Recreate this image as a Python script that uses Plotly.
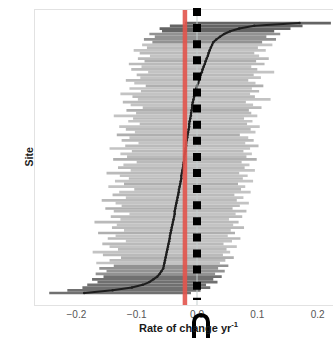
import plotly.graph_objects as go

# ---------------- data ----------------
site = list(range(1, 101))

estimate = [
    -0.187, -0.140, -0.108, -0.090, -0.079, -0.072, -0.066, -0.062, -0.059, -0.056,
    -0.055, -0.054, -0.053, -0.052, -0.051, -0.050, -0.049, -0.048, -0.047, -0.046,
    -0.045, -0.045, -0.044, -0.043, -0.042, -0.041, -0.040, -0.039, -0.038, -0.037,
    -0.037, -0.036, -0.035, -0.034, -0.033, -0.032, -0.031, -0.030, -0.030, -0.029,
    -0.028, -0.027, -0.026, -0.026, -0.025, -0.024, -0.023, -0.023, -0.022, -0.021,
    -0.021, -0.020, -0.019, -0.019, -0.018, -0.018, -0.017, -0.016, -0.016, -0.015,
    -0.014, -0.013, -0.013, -0.012, -0.011, -0.010, -0.010, -0.009, -0.008, -0.008,
    -0.007, -0.006, -0.005, -0.004, -0.002, -0.001, 0.000, 0.002, 0.003, 0.005,
    0.006, 0.008, 0.009, 0.011, 0.013, 0.014, 0.016, 0.018, 0.019, 0.021,
    0.023, 0.025, 0.027, 0.032, 0.038, 0.045, 0.055, 0.070, 0.095, 0.170,
]

lower = [
    -0.245, -0.215, -0.190, -0.182, -0.165, -0.174, -0.155, -0.168, -0.150, -0.162,
    -0.138, -0.167, -0.145, -0.126, -0.156, -0.173, -0.131, -0.145, -0.157, -0.118,
    -0.148, -0.135, -0.164, -0.121, -0.141, -0.133, -0.170, -0.127, -0.143, -0.112,
    -0.138, -0.152, -0.125, -0.135, -0.158, -0.118, -0.140, -0.129, -0.104, -0.147,
    -0.121, -0.136, -0.113, -0.128, -0.150, -0.110, -0.131, -0.122, -0.100, -0.139,
    -0.116, -0.127, -0.108, -0.145, -0.119, -0.097, -0.125, -0.112, -0.133, -0.103,
    -0.118, -0.129, -0.095, -0.114, -0.106, -0.138, -0.101, -0.117, -0.090, -0.110,
    -0.123, -0.098, -0.107, -0.127, -0.093, -0.112, -0.085, -0.104, -0.118, -0.094,
    -0.100, -0.081, -0.109, -0.092, -0.113, -0.087, -0.098, -0.078, -0.095, -0.105,
    -0.083, -0.091, -0.074, -0.088, -0.070, -0.079, -0.058, -0.062, -0.045, -0.020,
]

upper = [
    -0.010, 0.006, 0.022, 0.015, 0.034, 0.027, 0.041, 0.030, 0.046, 0.035,
    0.052, 0.038, 0.047, 0.061, 0.043, 0.055, 0.049, 0.066, 0.044, 0.058,
    0.072, 0.051, 0.063, 0.056, 0.078, 0.060, 0.069, 0.053, 0.075, 0.064,
    0.082, 0.059, 0.071, 0.086, 0.066, 0.077, 0.062, 0.089, 0.073, 0.080,
    0.068, 0.093, 0.076, 0.084, 0.070, 0.096, 0.079, 0.087, 0.074, 0.099,
    0.082, 0.091, 0.077, 0.088, 0.102, 0.080, 0.094, 0.085, 0.071, 0.097,
    0.089, 0.104, 0.083, 0.092, 0.078, 0.100, 0.090, 0.086, 0.107, 0.093,
    0.081, 0.122, 0.096, 0.088, 0.103, 0.091, 0.110, 0.097, 0.085, 0.106,
    0.094, 0.128, 0.100, 0.090, 0.112, 0.098, 0.119, 0.103, 0.095, 0.114,
    0.101, 0.125, 0.108, 0.131, 0.115, 0.138, 0.128, 0.155, 0.175, 0.222,
]

overall_rate = -0.020
reference_rate = 0.0
x_ticks = [-0.2, -0.1, 0.0, 0.1, 0.2]
x_tick_labels = ["\u22120.2", "\u22120.1", "0.0", "0.1", "0.2"]

# ---------------- figure ----------------
W, H = 333, 338
ML, MR, MT, MB = 35, 0, 10, 33
PW, PH = W - ML - MR, H - MT - MB
FONT = "Liberation Sans, Arial, sans-serif"

N = len(site)


def shade(k):
    if k < 7:
        return "#707070"
    if k < 11:
        return "#929292"
    if k >= N - 4:
        return "#646464"
    if k >= N - 8:
        return "#929292"
    if k % 9 == 4:
        return "#afafaf"
    return "#bababa" if k % 2 == 0 else "#c3c3c3"


groups = {}
for k in range(N):
    c = shade(k)
    xs, ys = groups.setdefault(c, ([], []))
    xs += [lower[k], upper[k], None]
    ys += [site[k], site[k], None]

fig = go.Figure()
order = ["#c3c3c3", "#bababa", "#afafaf", "#929292", "#707070", "#646464"]
for c in order:
    if c in groups:
        xs, ys = groups[c]
        fig.add_trace(go.Scatter(x=xs, y=ys, mode="lines",
                                 line=dict(color=c, width=2.7),
                                 hoverinfo="skip", showlegend=False))

fig.add_trace(go.Scatter(x=estimate, y=site, mode="lines+markers",
                         line=dict(color="#1e1e1e", width=2),
                         marker=dict(color="#1e1e1e", size=2.5),
                         showlegend=False))


def px2paper(px, py):
    return (px - ML) / PW, (H - MB - py) / PH


shapes = []
# faint zero line
shapes.append(dict(type="line", xref="x", yref="paper", x0=reference_rate, x1=reference_rate,
                   y0=0, y1=1, line=dict(color="#c5cfcf", width=1), layer="above"))
# red overall line
shapes.append(dict(type="line", xref="x", yref="paper", x0=overall_rate, x1=overall_rate,
                   y0=0, y1=1, line=dict(color="rgba(226,84,76,0.9)", width=4.5), layer="above"))
# thick dotted line at zero (drawn from top downwards)
_, ytop = px2paper(0, 8)
_, ybot = px2paper(0, 300)
shapes.append(dict(type="line", xref="x", yref="paper", x0=reference_rate, x1=reference_rate,
                   y0=ytop, y1=ybot, line=dict(color="black", width=8, dash="8px,8.1px"),
                   layer="above"))

# black arch mark below the axis
pts = [(194, 341), (194, 322), (194, 318.1), (197.1, 315), (201, 315),
       (204.9, 315), (208, 318.1), (208, 322), (208, 341)]
pp = [px2paper(*p) for p in pts]
path = ("M {0[0]},{0[1]} L {1[0]},{1[1]} C {2[0]},{2[1]} {3[0]},{3[1]} {4[0]},{4[1]} "
        "C {5[0]},{5[1]} {6[0]},{6[1]} {7[0]},{7[1]} L {8[0]},{8[1]}").format(*pp)
shapes.append(dict(type="path", xref="paper", yref="paper", path=path,
                   line=dict(color="black", width=4), layer="above"))

tx, _ = px2paper(189, 0)
sx, _ = px2paper(28, 0)
annotations = [
    dict(text="<b>Rate of change yr<sup>-1</sup></b>", xref="paper", yref="paper",
         x=tx, y=-0.075, xanchor="center", yanchor="middle", showarrow=False,
         font=dict(family=FONT, size=11, color="#1a1a1a")),
    dict(text="<b>Site</b>", xref="paper", yref="paper", x=sx, y=0.5,
         xanchor="center", yanchor="middle", textangle=-90, showarrow=False,
         font=dict(family=FONT, size=10.5, color="#1a1a1a")),
]

fig.update_layout(
    width=W, height=H,
    margin=dict(l=ML, r=MR, t=MT, b=MB, pad=0),
    paper_bgcolor="white", plot_bgcolor="white",
    shapes=shapes, annotations=annotations,
    showlegend=False,
    xaxis=dict(range=[-0.2686, 0.2255], tickvals=x_ticks, ticktext=x_tick_labels,
               showgrid=False, zeroline=False, showline=True, mirror=True,
               linecolor="#e2e2e2", linewidth=1, ticks="", ticklen=0,
               tickfont=dict(family=FONT, size=10, color="#555555")),
    yaxis=dict(range=[-3.4, 104.8], showticklabels=False, showgrid=False, zeroline=False,
               showline=True, linecolor="#e2e2e2", linewidth=1, ticks=""),
)

fig.write_html("out.html")
